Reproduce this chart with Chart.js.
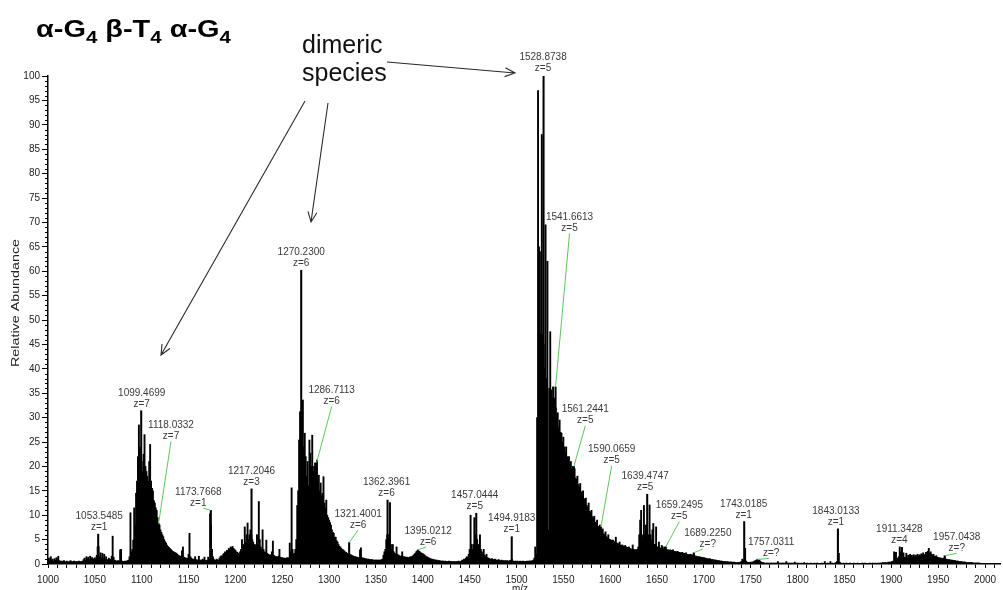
<!DOCTYPE html>
<html>
<head>
<meta charset="utf-8">
<title>α-G4 β-T4 α-G4 mass spectrum</title>
<script src="https://cdn.jsdelivr.net/npm/chart.js@4.4.1/dist/chart.umd.min.js"></script>
<style>
  html, body { margin: 0; padding: 0; background: #fff; }
  #wrap { position: relative; width: 1003px; height: 590px; overflow: hidden; }
  #spectrum { position: absolute; left: 0; top: 0; }
  #title {
    position: absolute; left: 36px; top: 17px;
    font: bold 24px "Liberation Sans", Arial, sans-serif; line-height: 24px;
    color: #000; white-space: nowrap; transform-origin: left top;
  }
  #title .sub { font-size: 17px; position: relative; top: 6px; }
  #note {
    position: absolute; left: 302px; top: 30px;
    font: 25px "Liberation Sans", Arial, sans-serif; line-height: 28px;
    color: #111; white-space: nowrap;
  }
</style>
</head>
<body>
<div id="wrap">
  <canvas id="spectrum" width="1003" height="590"></canvas>
  <div id="title">α-G<span class="sub">4</span> β-T<span class="sub">4</span> α-G<span class="sub">4</span></div>
  <div id="note">dimeric<br>species</div>
</div>
<script>
// Relative abundance sampled at every integer m/z, one array per 100 m/z window.
const envStart = 1000;
const env1000 = [
  0.8, 1.2, 0.6, 1.5, 0.7, 1.0, 0.6, 1.1, 0.8, 1.3,
  0.9, 1.6, 0.7, 0.6, 0.5, 0.6, 0.5, 0.7, 0.5, 0.4,
  0.6, 0.5, 0.4, 0.5, 0.7, 0.5, 0.4, 0.5, 0.6, 0.4,
  0.5, 0.4, 0.5, 0.6, 0.4, 0.5, 0.5, 0.6, 0.9, 1.2,
  0.8, 1.5, 1.1, 1.4, 0.9, 1.6, 1.0, 1.3, 0.8, 1.1,
  1.3, 1.0, 1.8, 3.5, 3.6, 1.5, 2.3, 1.2, 2.2, 1.1,
  2.0, 0.9, 1.5, 0.8, 0.9, 1.2, 0.8, 1.0, 1.6, 5.7,
  1.4, 0.8, 0.7, 0.6, 0.6, 0.7, 0.6, 2.9, 3.0, 0.6,
  0.5, 0.5, 0.6, 0.5, 0.6, 0.7, 0.8, 1.5, 10.5, 2.5,
  3.0, 4.9, 11.5, 8.0, 14.5, 17.0, 22.0, 28.5, 24.0, 22.0
];
const env1100 = [
  21.0, 19.0, 22.5, 26.5, 20.0, 19.0, 18.0, 17.0, 21.0, 24.5,
  17.0, 15.5, 15.0, 13.0, 12.5, 11.5, 11.0, 9.5, 7.5, 8.0,
  7.0, 6.5, 6.0, 5.6, 5.0, 4.6, 4.3, 3.9, 3.6, 3.4,
  3.2, 3.0, 2.8, 2.6, 2.5, 2.4, 2.3, 2.2, 2.0, 1.8,
  1.7, 1.6, 1.5, 2.7, 3.5, 1.4, 1.3, 1.2, 1.2, 1.1,
  2.0, 6.3, 1.5, 1.2, 1.0, 1.0, 0.9, 1.5, 0.9, 0.8,
  0.8, 1.6, 0.8, 0.8, 0.7, 1.0, 0.7, 1.4, 0.7, 0.7,
  0.8, 1.4, 1.0, 10.3, 8.0, 3.0, 1.5, 1.0, 0.8, 0.7,
  1.0, 0.8, 0.8, 1.2, 1.5, 1.7, 1.5, 2.0, 2.2, 2.5,
  2.3, 2.8, 2.6, 3.2, 3.0, 3.5, 3.3, 3.6, 3.2, 3.0
];
const env1200 = [
  2.8, 2.5, 2.4, 2.2, 2.0, 2.5, 3.0, 5.0, 3.5, 4.0,
  7.6, 4.5, 6.0, 8.4, 5.0, 6.0, 7.0, 6.0, 5.0, 4.5,
  4.0, 3.5, 4.0, 6.0, 3.8, 12.8, 5.0, 3.5, 3.0, 7.0,
  3.0, 2.5, 2.3, 4.9, 2.2, 2.0, 1.8, 1.9, 1.7, 2.5,
  4.7, 1.8, 1.6, 1.5, 1.5, 1.4, 1.6, 3.0, 1.4, 1.3,
  1.3, 1.2, 1.2, 1.2, 1.1, 1.3, 1.2, 1.3, 4.3, 2.5,
  15.6, 3.0, 2.0, 2.2, 3.0, 5.0, 12.0, 15.0, 25.4, 31.2,
  28.9, 27.0, 33.6, 24.0, 26.8, 22.0, 18.0, 21.0, 16.0, 25.4,
  22.7, 20.0, 26.4, 19.0, 20.0, 20.7, 19.0, 21.3, 17.0, 18.2,
  15.0, 16.6, 14.0, 14.5, 17.9, 12.5, 11.5, 13.1, 10.0, 9.5
];
const env1300 = [
  9.0, 8.5, 8.0, 7.0, 6.5, 6.3, 5.5, 5.5, 4.8, 4.5,
  4.0, 3.6, 3.5, 3.2, 3.0, 2.9, 2.7, 2.5, 2.4, 2.2,
  2.1, 2.0, 2.0, 1.9, 1.8, 1.7, 1.6, 1.5, 1.5, 1.4,
  1.4, 1.3, 1.3, 2.9, 3.3, 1.3, 1.2, 1.2, 1.1, 1.1,
  1.0, 1.0, 1.0, 0.9, 0.9, 0.9, 0.9, 0.8, 0.8, 0.8,
  0.8, 0.8, 0.8, 0.8, 0.8, 0.8, 0.9, 1.0, 1.8, 2.5,
  3.0, 5.0, 6.0, 5.0, 6.0, 12.6, 4.0, 3.0, 4.0, 2.5,
  2.2, 2.0, 3.5, 2.0, 1.8, 1.7, 1.6, 1.6, 2.5, 1.5,
  1.5, 1.4, 1.4, 1.4, 1.3, 1.3, 1.4, 1.5, 1.5, 1.6,
  1.8, 2.0, 2.2, 2.5, 2.7, 2.6, 2.6, 2.5, 2.3, 2.2
];
const env1400 = [
  2.1, 2.0, 1.8, 1.6, 1.5, 1.4, 1.3, 1.2, 1.1, 1.0,
  1.0, 0.9, 0.9, 0.8, 0.8, 0.8, 0.7, 0.7, 0.7, 0.6,
  0.6, 0.6, 0.6, 0.5, 0.6, 0.5, 0.5, 0.5, 0.6, 0.5,
  0.5, 0.5, 0.4, 0.5, 0.5, 0.4, 0.5, 0.5, 0.6, 0.5,
  0.5, 0.6, 0.8, 0.7, 1.0, 0.8, 1.2, 1.5, 1.3, 2.0,
  3.0, 10.0, 4.0, 3.0, 4.0, 9.5, 6.0, 6.0, 5.0, 4.0,
  3.5, 6.0, 3.0, 2.5, 2.0, 3.0, 1.8, 1.5, 2.0, 1.3,
  1.2, 1.1, 1.0, 1.0, 1.1, 0.9, 0.9, 1.0, 0.8, 0.8,
  0.8, 0.9, 0.7, 0.7, 0.8, 0.7, 0.7, 0.6, 0.7, 0.6,
  0.7, 0.6, 0.6, 0.7, 0.8, 1.0, 0.6, 0.6, 0.5, 0.6
];
const env1500 = [
  0.5, 0.6, 0.5, 0.5, 0.6, 0.5, 0.5, 0.6, 0.5, 0.5,
  0.5, 0.6, 0.5, 0.6, 0.6, 0.6, 0.6, 0.7, 0.8, 1.2,
  3.5, 2.0, 30.0, 97.0, 65.0, 64.0, 47.0, 88.0, 47.0, 45.0,
  40.0, 69.5, 38.0, 62.0, 7.0, 36.0, 47.6, 35.7, 34.0, 36.3,
  31.0, 34.0, 32.0, 30.0, 31.0, 28.0, 29.5, 27.0, 26.8, 25.0,
  26.0, 24.0, 23.0, 24.0, 22.0, 21.3, 22.0, 20.0, 21.0, 19.5,
  20.0, 18.6, 19.5, 17.6, 17.4, 18.0, 16.3, 15.8, 16.5, 14.8,
  14.3, 15.0, 13.4, 12.9, 13.5, 12.0, 11.6, 12.5, 10.8, 10.5,
  11.0, 9.7, 9.3, 9.8, 8.6, 8.3, 9.0, 7.7, 7.5, 8.0,
  6.9, 6.7, 7.2, 6.2, 6.0, 6.6, 5.6, 5.4, 6.0, 5.1
];
const env1600 = [
  5.0, 4.9, 4.8, 4.9, 4.6, 4.5, 5.5, 4.3, 4.2, 4.1,
  4.5, 3.9, 3.8, 3.9, 3.7, 3.6, 3.8, 3.5, 3.4, 3.3,
  3.5, 3.2, 3.1, 3.0, 3.9, 3.0, 2.9, 2.9, 2.9, 3.0,
  3.5, 6.0, 9.0, 11.0, 5.0, 6.0, 12.0, 6.0, 8.0, 7.0,
  5.0, 6.0, 12.1, 6.0, 5.0, 7.0, 8.3, 4.0, 4.0, 7.6,
  3.5, 3.5, 4.5, 3.3, 3.2, 3.8, 3.5, 3.1, 3.5, 3.3,
  3.0, 2.9, 2.9, 2.8, 2.9, 2.8, 2.7, 2.9, 2.6, 2.6,
  2.5, 2.5, 2.6, 2.4, 2.4, 2.3, 2.3, 2.4, 2.2, 2.2,
  2.1, 2.3, 2.0, 2.0, 1.9, 1.9, 2.0, 1.8, 1.8, 2.0,
  1.7, 1.6, 1.6, 1.5, 1.5, 1.5, 1.4, 1.4, 1.3, 1.3
];
const env1700 = [
  1.3, 1.2, 1.2, 1.1, 1.1, 1.0, 1.1, 1.0, 0.9, 0.9,
  0.9, 0.8, 0.8, 0.8, 0.7, 0.7, 0.7, 0.6, 0.6, 0.6,
  0.5, 0.5, 0.5, 0.5, 0.4, 0.5, 0.4, 0.4, 0.4, 0.4,
  0.4, 0.3, 0.4, 0.3, 0.3, 0.3, 0.3, 0.3, 0.3, 0.4,
  0.5, 1.0, 0.6, 0.8, 3.2, 0.6, 0.4, 0.3, 0.3, 0.3,
  0.4, 0.3, 0.4, 0.5, 0.6, 0.7, 0.8, 0.8, 1.0, 0.8,
  0.6, 0.4, 0.3, 0.3, 0.2, 0.2, 0.1, 0.2, 0.2, 0.1,
  0.2, 0.1, 0.2, 0.2, 0.1, 0.2, 0.1, 0.2, 0.2, 0.5,
  0.2, 0.1, 0.2, 0.1, 0.2, 0.2, 0.1, 0.2, 0.5, 0.2,
  0.1, 0.2, 0.1, 0.2, 0.1, 0.2, 0.1, 0.4, 0.1, 0.2
];
const env1800 = [
  0.1, 0.2, 0.1, 0.1, 0.2, 0.1, 0.1, 0.3, 0.1, 0.1,
  0.2, 0.1, 0.1, 0.1, 0.2, 0.1, 0.1, 0.1, 0.2, 0.1,
  0.1, 0.2, 0.1, 0.1, 0.1, 0.1, 0.2, 0.1, 0.1, 0.5,
  0.1, 0.1, 0.2, 0.1, 0.1, 0.5, 0.1, 0.2, 0.1, 0.1,
  0.2, 0.3, 0.5, 1.0, 2.2, 0.4, 0.2, 0.1, 0.1, 0.2,
  0.1, 0.1, 0.2, 0.1, 0.1, 0.1, 0.2, 0.1, 0.1, 0.1,
  0.2, 0.1, 0.1, 0.1, 0.2, 0.1, 0.1, 0.1, 0.1, 0.2,
  0.1, 0.1, 0.2, 0.1, 0.1, 0.1, 0.1, 0.2, 0.1, 0.1,
  0.2, 0.1, 0.1, 0.2, 0.1, 0.1, 0.2, 0.1, 0.2, 0.2,
  0.2, 0.3, 0.2, 0.3, 0.3, 0.2, 0.3, 0.4, 0.3, 0.4
];
const env1900 = [
  0.4, 0.5, 0.6, 2.5, 0.8, 2.4, 1.0, 1.2, 1.5, 3.5,
  2.5, 1.5, 1.5, 2.3, 1.4, 1.3, 2.2, 1.2, 1.8, 1.3,
  2.0, 1.2, 1.8, 1.4, 1.9, 1.5, 1.8, 1.6, 2.0, 1.6,
  1.9, 1.7, 2.1, 1.8, 2.3, 1.8, 2.0, 2.4, 1.9, 2.6,
  3.2, 2.2, 2.5, 2.0, 1.8, 2.0, 1.6, 1.5, 1.7, 1.4,
  1.3, 1.3, 1.2, 1.2, 1.1, 1.1, 1.2, 1.4, 1.0, 1.0,
  0.9, 0.9, 0.9, 0.8, 0.8, 0.8, 0.7, 0.7, 0.7, 0.6,
  0.6, 0.6, 0.5, 0.5, 0.5, 0.5, 0.4, 0.4, 0.4, 0.4,
  0.3, 0.3, 0.3, 0.3, 0.3, 0.3, 0.3, 0.2, 0.2, 0.2,
  0.2, 0.2, 0.2, 0.2, 0.2, 0.1, 0.1, 0.1, 0.1, 0.1
];

// Annotated peaks: m/z, charge state and relative abundance.
const labelMz = [1053.5485, 1099.4699, 1118.0332, 1173.7668, 1217.2046, 1270.2300,
  1286.7113, 1321.4001, 1362.3961, 1395.0212, 1457.0444, 1494.9183, 1528.8738,
  1541.6613, 1561.2441, 1590.0659, 1639.4747, 1659.2495, 1689.2250, 1743.0185,
  1757.0311, 1843.0133, 1911.3428, 1957.0438];
const labelCharge = ['1', '7', '7', '1', '3', '6', '6', '6', '6', '6', '5', '1', '5',
  '5', '5', '5', '5', '5', '?', '1', '?', '1', '4', '?'];
const labelAbund = [6.1, 31.4, 8.3, 11.0, 15.4, 60.2, 20.8, 4.4, 13.1, 2.9, 10.4, 5.6,
  100, 36.3, 20.0, 7.6, 14.3, 3.5, 2.3, 8.7, 0.9, 7.2, 3.4, 1.7];

// Where each annotation sits relative to its peak top (px): [dx, dy of the z line, leader start dx or null]
const labelPlacement = [
  [1, -7, null], [0.5, -7, null], [12.4, -87, 0], [-12.5, -7, 5], [0, -7, null],
  [0, -7, null], [15, -61, 0], [9, -17.5, 0], [-1, -7, null], [10, -8, -2],
  [-1.5, -7, null], [0, -7, null], [-0.5, -7.5, null], [14, -158.6, 0], [11.4, -45.7, 0],
  [10.8, -66.2, 0], [-2, -7, null], [13.6, -30.2, 0], [14, -8.8, -5], [-0.5, -6, null],
  [13.8, -6.3, -2], [-2, -7, null], [-2.6, -7.4, null], [12, -7.4, 0]
];

// Call-out arrows for the dimeric species note (px): [x0, y0, x1, y1]
const calloutArrows = [[305, 101, 161, 355], [328, 103, 311, 222], [387, 62, 515, 73]];

const FONT = '"Liberation Sans", Arial, sans-serif';

function envelopePoints() {
  const windows = [env1000, env1100, env1200, env1300, env1400, env1500, env1600, env1700, env1800, env1900];
  const pts = [];
  windows.forEach((arr, k) => arr.forEach((v, i) => pts.push({ x: envStart + k * 100 + i, y: v })));
  return pts;
}
const peakPoints = labelMz.map((mz, i) => ({ x: mz, y: labelAbund[i] }));

// Short unlabeled ticks on the abundance axis, one per unit.
const minorTicks = {
  id: 'minorTicks',
  afterDraw(chart) {
    const { ctx, scales: { y }, chartArea } = chart;
    ctx.save();
    ctx.strokeStyle = '#000';
    ctx.lineWidth = 1;
    ctx.beginPath();
    for (let v = 0; v <= 100; v++) {
      if (v % 5 === 0) continue;
      const py = Math.round(y.getPixelForValue(v)) + 0.5;
      ctx.moveTo(chartArea.left - 3, py);
      ctx.lineTo(chartArea.left, py);
    }
    ctx.stroke();
    ctx.restore();
  }
};

// m/z and charge annotations, with green leader lines for offset labels.
const peakLabels = {
  id: 'peakLabels',
  afterDatasetsDraw(chart) {
    const { ctx, scales: { x, y } } = chart;
    ctx.save();
    ctx.font = '10px ' + FONT;
    ctx.textAlign = 'center';
    ctx.textBaseline = 'middle';
    labelMz.forEach((mz, i) => {
      const px = x.getPixelForValue(mz);
      const py = y.getPixelForValue(labelAbund[i]);
      const [dx, dy, lead] = labelPlacement[i];
      const lx = px + dx, zy = py + dy;
      if (lead !== null) {
        ctx.strokeStyle = '#5ac85a';
        ctx.lineWidth = 1;
        ctx.beginPath();
        ctx.moveTo(lx + lead, zy + 5);
        ctx.lineTo(px, py);
        ctx.stroke();
      }
      ctx.fillStyle = '#3a3a3a';
      ctx.fillText(mz.toFixed(4), lx, zy - 11);
      ctx.fillText('z=' + labelCharge[i], lx, zy);
    });
    ctx.restore();
  }
};

// Axis titles and the call-out arrows.
const extras = {
  id: 'extras',
  afterDraw(chart) {
    const { ctx, chartArea } = chart;
    ctx.save();
    ctx.fillStyle = '#222';
    ctx.font = '10px ' + FONT;
    ctx.textAlign = 'center';
    ctx.textBaseline = 'middle';
    // vertical title, stretched along its length
    ctx.save();
    ctx.translate(16, 303);
    ctx.rotate(-Math.PI / 2);
    const w = ctx.measureText('Relative Abundance').width;
    ctx.scale(128 / w, 1);
    ctx.fillText('Relative Abundance', 0, 0);
    ctx.restore();
    // m/z title just below the tick labels
    ctx.textBaseline = 'alphabetic';
    ctx.fillText('m/z', (chartArea.left + chartArea.right) / 2 - 4, 592);
    // arrows
    ctx.strokeStyle = '#2a2a2a';
    ctx.lineWidth = 1.1;
    calloutArrows.forEach(([x0, y0, x1, y1]) => {
      const a = Math.atan2(y1 - y0, x1 - x0);
      const L = 11, h = 0.42;
      ctx.beginPath();
      ctx.moveTo(x0, y0);
      ctx.lineTo(x1, y1);
      ctx.moveTo(x1 - L * Math.cos(a - h), y1 - L * Math.sin(a - h));
      ctx.lineTo(x1, y1);
      ctx.lineTo(x1 - L * Math.cos(a + h), y1 - L * Math.sin(a + h));
      ctx.stroke();
    });
    ctx.restore();
  }
};

new Chart(document.getElementById('spectrum'), {
  type: 'bar',
  data: {
    datasets: [
      { data: envelopePoints(), backgroundColor: '#000', borderWidth: 0, barThickness: 1.25, grouped: false },
      { data: peakPoints, backgroundColor: '#000', borderWidth: 0, barThickness: 1.4, grouped: false }
    ]
  },
  options: {
    responsive: false,
    animation: false,
    devicePixelRatio: 1,
    events: [],
    layout: { padding: { top: 76, right: 3, bottom: 0, left: 0 } },
    plugins: { legend: { display: false }, tooltip: { enabled: false } },
    scales: {
      x: {
        type: 'linear', min: 1000, max: 2016, offset: false,
        ticks: {
          stepSize: 10, autoSkip: false, maxRotation: 0, includeBounds: false,
          color: '#222', font: { size: 10, family: FONT }, padding: 6,
          callback: v => (v % 50 === 0 ? String(v) : '')
        },
        grid: { drawOnChartArea: false, offset: false, tickLength: 4, color: '#000', lineWidth: 1 },
        border: { color: '#000', width: 1.5 },
        afterFit(s) { s.height = 26; }
      },
      y: {
        min: 0, max: 100,
        ticks: { stepSize: 5, color: '#222', font: { size: 10, family: FONT }, padding: 2 },
        grid: { drawOnChartArea: false, tickLength: 6, color: '#000', lineWidth: 1 },
        border: { color: '#000', width: 1.5 },
        afterFit(s) { s.width = 48; }
      }
    }
  },
  plugins: [minorTicks, peakLabels, extras]
});

// stretch the heading to its set width
const title = document.getElementById('title');
title.style.transform = 'scaleX(' + (195 / title.getBoundingClientRect().width) + ')';
</script>
</body>
</html>
